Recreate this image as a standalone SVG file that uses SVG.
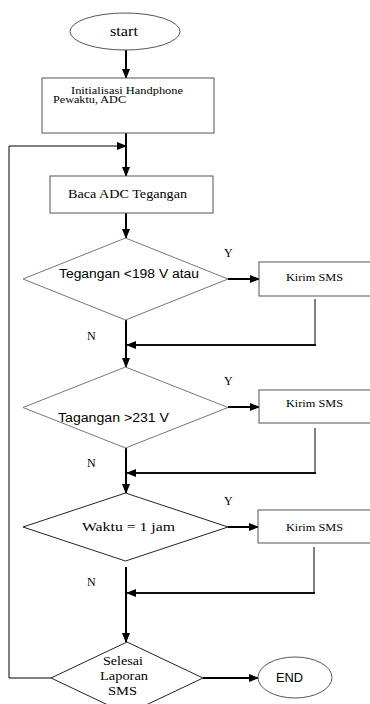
<svg xmlns="http://www.w3.org/2000/svg" width="370" height="704" viewBox="0 0 370 704">
<style>
.shape{fill:#fff;stroke:#555;stroke-width:1}
.dia{fill:#fff;stroke:#777;stroke-width:1}
.dia3{fill:#fff;stroke:#222;stroke-width:1}
.serif{font-family:"Liberation Serif",serif;fill:#000}
.sans{font-family:"Liberation Sans",sans-serif;fill:#000}
.main{stroke:#000;stroke-width:2;fill:none}
.thin{stroke:#000;stroke-width:1;fill:none}
.ret{stroke:#111;stroke-width:2;fill:none}
</style>
<defs>
<marker id="ah" markerWidth="10" markerHeight="10" refX="9" refY="5" orient="auto" markerUnits="userSpaceOnUse">
<path d="M0,1 L10,5 L0,9 Z" fill="#000"/>
</marker>
</defs>
<rect width="370" height="704" fill="#fff"/>
<g id="connectors">
<line class="main" x1="126" y1="50" x2="126" y2="78" marker-end="url(#ah)"/>
<line class="main" x1="126" y1="133" x2="126" y2="176" marker-end="url(#ah)"/>
<polyline class="thin" points="9,678 9,146 126,146" marker-end="url(#ah)"/>
<line class="thin" x1="9" y1="678" x2="51" y2="678"/>
<line class="main" x1="126" y1="213" x2="126" y2="238" marker-end="url(#ah)"/>
<line class="main" x1="228" y1="279" x2="259" y2="279" marker-end="url(#ah)"/>
<polyline class="thin" points="315,299 315,345"/>
<line class="ret" x1="316" y1="345" x2="127" y2="345" marker-end="url(#ah)"/>
<line class="main" x1="126" y1="320" x2="126" y2="367" marker-end="url(#ah)"/>
<line class="main" x1="228" y1="407" x2="259" y2="407" marker-end="url(#ah)"/>
<polyline class="thin" points="315,428 315,473"/>
<line class="ret" x1="316" y1="473" x2="127" y2="473" marker-end="url(#ah)"/>
<line class="main" x1="126" y1="448" x2="126" y2="493" marker-end="url(#ah)"/>
<line class="main" x1="228" y1="527" x2="258" y2="527" marker-end="url(#ah)"/>
<polyline class="thin" points="314,547 314,593"/>
<line class="ret" x1="315" y1="593" x2="127" y2="593" marker-end="url(#ah)"/>
<line class="main" x1="126" y1="567" x2="126" y2="642" marker-end="url(#ah)"/>
<line class="main" x1="203" y1="678" x2="258" y2="678" stroke-width="3" marker-end="url(#ah)"/>
</g>
<g id="start">
<ellipse class="shape" cx="125" cy="31.5" rx="55" ry="18.5"/>
<text class="serif" x="110" y="36" font-size="14" textLength="28" lengthAdjust="spacingAndGlyphs">start</text>
</g>
<g id="init">
<rect class="shape" x="42" y="78" width="172" height="55"/>
<text class="serif" x="71" y="93.5" font-size="9.5" textLength="112" lengthAdjust="spacingAndGlyphs">Initialisasi Handphone</text>
<text class="serif" x="53" y="103" font-size="9.5" textLength="73" lengthAdjust="spacingAndGlyphs">Pewaktu, ADC</text>
</g>
<g id="baca">
<rect class="shape" x="50" y="176" width="163" height="37"/>
<text class="serif" x="68" y="198" font-size="13" textLength="119" lengthAdjust="spacingAndGlyphs">Baca ADC Tegangan</text>
</g>
<g id="dec1">
<polygon class="dia" points="125.5,238 228,279 125.5,320 23,279"/>
<text class="sans" x="59" y="277.5" font-size="12" textLength="140" lengthAdjust="spacingAndGlyphs">Tegangan &lt;198 V atau</text>
<text class="serif" x="224" y="257" font-size="12">Y</text>
<text class="serif" x="87" y="340" font-size="12">N</text>
</g>
<g id="sms1">
<rect class="shape" x="259" y="262" width="112" height="34" stroke="#777"/>
<text class="serif" x="286" y="281" font-size="10.5" textLength="57" lengthAdjust="spacingAndGlyphs">Kirim SMS</text>
</g>
<g id="dec2">
<polygon class="dia" points="125.5,367 228,407.5 125.5,448 23,407.5"/>
<text class="sans" x="58" y="421.5" font-size="12" textLength="111" lengthAdjust="spacingAndGlyphs">Tagangan &gt;231 V</text>
<text class="serif" x="224" y="385" font-size="12">Y</text>
<text class="serif" x="87" y="467" font-size="12">N</text>
</g>
<g id="sms2">
<rect class="shape" x="259" y="390" width="112" height="33"/>
<text class="serif" x="286" y="407" font-size="10.5" textLength="57" lengthAdjust="spacingAndGlyphs">Kirim SMS</text>
</g>
<g id="dec3">
<polygon class="dia3" points="125.5,493 228,527 125.5,561 23,527"/>
<text class="serif" x="82" y="531" font-size="13" textLength="93" lengthAdjust="spacingAndGlyphs">Waktu = 1 jam</text>
<text class="serif" x="224" y="505" font-size="12">Y</text>
<text class="serif" x="87" y="586" font-size="12">N</text>
</g>
<g id="sms3">
<rect class="shape" x="258" y="510" width="113" height="33"/>
<text class="serif" x="286" y="530.5" font-size="10.5" textLength="57" lengthAdjust="spacingAndGlyphs">Kirim SMS</text>
</g>
<g id="dec4">
<polygon class="dia3" points="127,642 203,678 127,714 51,678"/>
<text class="serif" x="103" y="665" font-size="13" textLength="40" lengthAdjust="spacingAndGlyphs">Selesai</text>
<text class="serif" x="100" y="680" font-size="13" textLength="48" lengthAdjust="spacingAndGlyphs">Laporan</text>
<text class="serif" x="108" y="695" font-size="13" textLength="29" lengthAdjust="spacingAndGlyphs">SMS</text>
</g>
<g id="end">
<ellipse class="shape" cx="295" cy="677.5" rx="37" ry="20.5"/>
<text class="sans" x="276" y="681.5" font-size="12" textLength="27" lengthAdjust="spacingAndGlyphs">END</text>
</g>
</svg>
